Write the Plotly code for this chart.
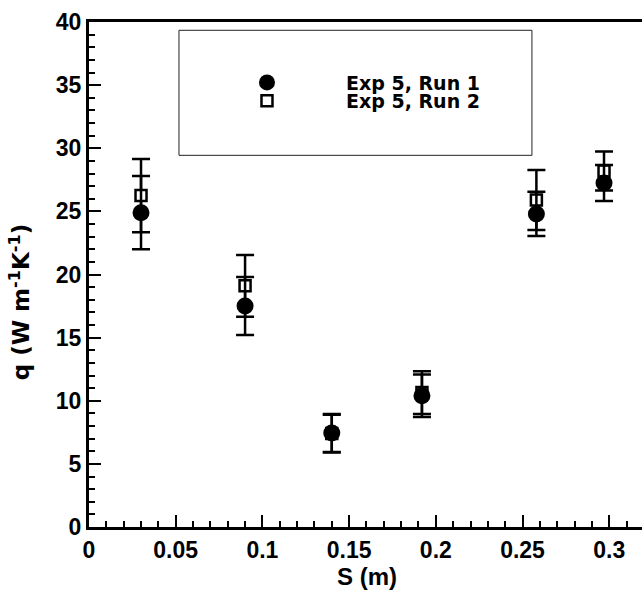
import plotly.graph_objects as go

# ---- data ----
s_run1 = [0.030, 0.090, 0.140, 0.192, 0.258, 0.297]
q_run1 = [24.9, 17.5, 7.45, 10.4, 24.8, 27.25]
e_run1 = [2.9, 2.3, 1.5, 1.68, 1.75, 1.42]

s_run2 = [0.030, 0.090, 0.140, 0.192, 0.258, 0.297]
q_run2 = [26.25, 19.1, 7.4, 10.65, 25.9, 28.2]
e_run2 = [2.9, 2.45, 1.5, 1.69, 2.37, 1.55]

x_ticks = [0, 0.05, 0.1, 0.15, 0.2, 0.25, 0.3]
x_ticklabels = ["0", "0.05", "0.1", "0.15", "0.2", "0.25", "0.3"]
y_ticks = [0, 5, 10, 15, 20, 25, 30, 35, 40]

FONT = "Liberation Sans, Arial, sans-serif"
WIDE = "DejaVu Sans, sans-serif"


def f(size, family=FONT):
    return dict(family=family, size=size, color="black", weight="bold")


fig = go.Figure()

fig.add_trace(go.Scatter(
    x=s_run2, y=q_run2, mode="markers", name="Exp 5, Run 2",
    legend="legend2",
    marker=dict(symbol="square", size=11, color="white",
                line=dict(color="black", width=2.5)),
    error_y=dict(type="data", array=e_run2, visible=True,
                 color="black", thickness=2.5, width=9),
))
fig.add_trace(go.Scatter(
    x=s_run1, y=q_run1, mode="markers", name="Exp 5, Run 1",
    legend="legend",
    marker=dict(symbol="circle", size=17, color="black",
                line=dict(color="black", width=0)),
    error_y=dict(type="data", array=e_run1, visible=True,
                 color="black", thickness=2.5, width=9),
))

# legend box
fig.add_shape(type="rect", xref="paper", yref="paper",
              x0=0.1627, x1=0.801, y0=0.736, y1=0.9836,
              line=dict(color="#222222", width=1), fillcolor="rgba(0,0,0,0)",
              layer="below")

leg_common = dict(x=0.179, xanchor="left", yanchor="middle",
                  bgcolor="rgba(0,0,0,0)", borderwidth=0,
                  itemwidth=148, font=f(19, WIDE))

fig.update_layout(
    width=642, height=590,
    margin=dict(l=89, r=0, t=22, b=63, pad=0),
    paper_bgcolor="white", plot_bgcolor="white",
    font=f(23),
    showlegend=True,
    legend=dict(y=0.880, **leg_common),
    legend2=dict(y=0.8436, **leg_common),
    xaxis=dict(range=[0, 0.3189], tickvals=x_ticks, ticktext=x_ticklabels,
               ticks="inside", ticklen=12, tickwidth=2, tickcolor="black",
               showline=True, linewidth=3, linecolor="black", mirror=True,
               showgrid=False, zeroline=False,
               minor=dict(ticks="inside", dtick=0.01, ticklen=6,
                          tickwidth=1.5, tickcolor="black", showgrid=False),
               tickfont=f(23)),
    yaxis=dict(range=[0, 40], tickvals=y_ticks,
               ticks="inside", ticklen=12, tickwidth=2, tickcolor="black",
               showline=True, linewidth=3, linecolor="black", mirror=False,
               showgrid=False, zeroline=False,
               minor=dict(ticks="inside", dtick=1, ticklen=6,
                          tickwidth=1.5, tickcolor="black", showgrid=False),
               tickfont=f(23)),
    annotations=[
        dict(text="S (m)", xref="paper", yref="paper", x=0.502,
             y=(526.7 - 576) / 505,
             xanchor="center", yanchor="middle", showarrow=False,
             font=f(24)),
        dict(text="q (W m<sup>-1</sup>K<sup>-1</sup>)", xref="paper", yref="paper",
             x=(20 - 89) / 553, y=(526.7 - 302) / 505, textangle=-90,
             xanchor="center", yanchor="middle", showarrow=False,
             font=f(23, WIDE)),
    ],
)

fig.write_html("out.html")
